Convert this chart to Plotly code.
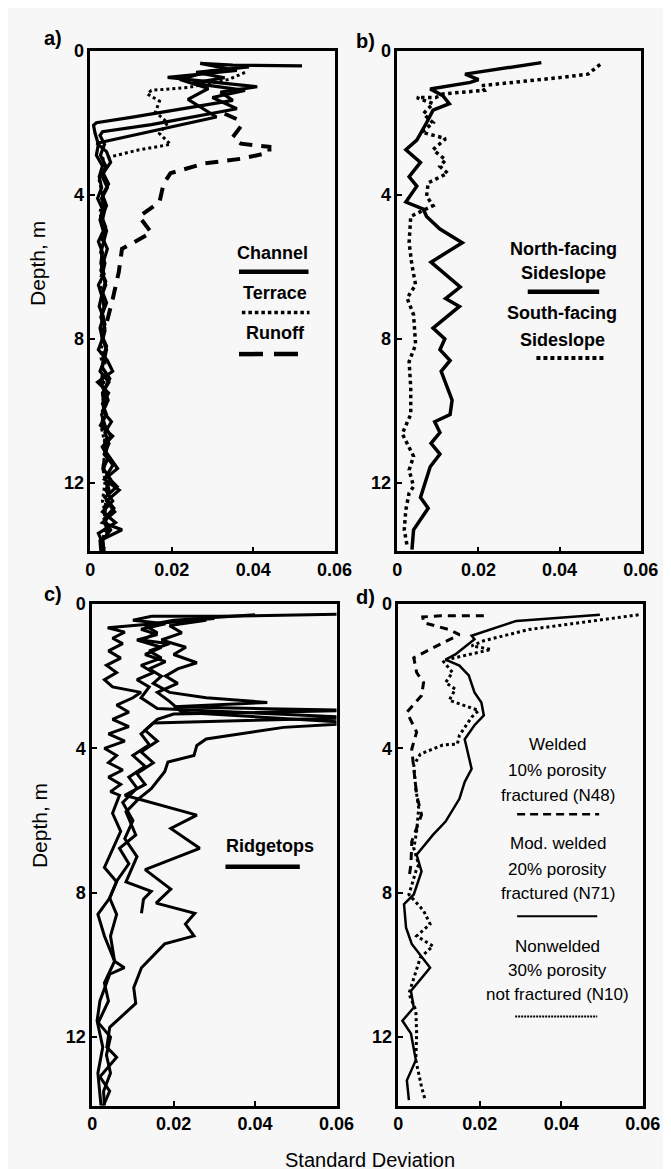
import plotly.graph_objects as go

W, H = 671, 1169

# ---------------- data (depth in m, standard deviation) ----------------
# Panel a: Channel (solid, 3 profiles), Terrace (dotted), Runoff (dashed)
ch1_depth = [0.42,0.40,0.35,0.55,0.74,1.00,1.15,1.38,1.85,2.00,2.07,2.30,2.60,2.90,3.20,3.50,3.80,4.10,4.40,4.70,5.00,5.30,5.60,5.90,6.20,6.50,6.80,7.10,7.40,7.70,8.00,8.30,8.60,8.90,9.20,9.50,9.80,10.10,10.40,10.70,11.00,11.30,11.60,11.90,12.20,12.50,12.80,13.10,13.30,13.60,13.90]
ch1_sd = [0.052,0.035,0.027,0.036,0.019,0.041,0.032,0.035,0.010,0.0015,0.0008,0.0012,0.0020,0.0015,0.0030,0.0022,0.0028,0.0018,0.0030,0.0024,0.0032,0.0020,0.0030,0.0026,0.0034,0.0020,0.0028,0.0022,0.0032,0.0024,0.0030,0.0020,0.0042,0.0055,0.0018,0.0045,0.0030,0.0040,0.0025,0.0055,0.0030,0.0048,0.0067,0.0035,0.0071,0.0040,0.0060,0.0030,0.0078,0.0024,0.0026]
ch2_depth = [0.45,0.60,0.75,0.90,1.10,1.30,1.61,2.05,2.25,2.35,2.60,2.90,3.20,3.50,3.80,4.10,4.40,4.70,5.00,5.30,5.60,5.90,6.20,6.50,6.80,7.10,7.40,7.70,8.00,8.30,8.60,8.90,9.20,9.50,9.80,10.10,10.40,10.70,11.00,11.30,11.60,11.90,12.20,12.50,12.80,13.10,13.40,13.70,13.90]
ch2_sd = [0.039,0.026,0.033,0.025,0.038,0.030,0.036,0.015,0.0030,0.0024,0.0035,0.0025,0.0038,0.0030,0.0042,0.0028,0.0036,0.0030,0.0040,0.0032,0.0026,0.0036,0.0030,0.0038,0.0028,0.0034,0.0026,0.0036,0.0030,0.0040,0.0034,0.0024,0.0046,0.0030,0.0040,0.0028,0.0036,0.0050,0.0030,0.0044,0.0032,0.0050,0.0038,0.0055,0.0030,0.0062,0.0020,0.0032,0.0030]
ch3_depth = [0.55,0.80,1.05,1.35,1.84,2.30,2.57,2.80,3.10,3.40,3.70,4.00,4.30,4.60,4.90,5.20,5.50,5.80,6.10,6.40,6.70,7.00,7.30,7.60,7.90,8.20,8.50,8.80,9.10,9.40,9.70,10.00,10.30,10.60,10.90,11.20,11.50,11.80,12.10,12.40,12.70,13.00,13.30,13.60,13.90]
ch3_sd = [0.030,0.022,0.029,0.024,0.031,0.012,0.0016,0.0040,0.0050,0.0032,0.0045,0.0030,0.0040,0.0028,0.0038,0.0030,0.0042,0.0034,0.0026,0.0038,0.0030,0.0040,0.0030,0.0036,0.0028,0.0040,0.0032,0.0030,0.0048,0.0034,0.0044,0.0030,0.0052,0.0036,0.0046,0.0034,0.0056,0.0040,0.0066,0.0036,0.0058,0.0034,0.0050,0.0030,0.0034]
terrace_depth = [0.60,0.80,1.02,1.10,1.20,1.40,1.70,2.00,2.30,2.60,2.75,2.90,3.00,3.30,3.60,4.00,4.50,5.00,5.50,6.00,6.50,7.00,7.50,8.00,8.50,9.00,9.50,10.00,10.50,11.00,11.50,12.00,12.50,13.00,13.50,13.90]
terrace_sd = [0.038,0.034,0.024,0.015,0.014,0.017,0.016,0.019,0.017,0.0197,0.012,0.0063,0.0030,0.0035,0.0022,0.0030,0.0024,0.0032,0.0026,0.0030,0.0024,0.0034,0.0028,0.0030,0.0026,0.0036,0.0030,0.0034,0.0028,0.0038,0.0032,0.0036,0.0030,0.0040,0.0032,0.0030]
runoff_depth = [1.75,1.90,2.10,2.40,2.58,2.67,2.83,3.00,3.13,3.40,3.70,4.20,4.60,5.05,5.50,6.15,6.90,7.50,8.00,8.60,9.20,9.80,10.40,11.00,11.60,12.20,12.80,13.40,13.90]
runoff_sd = [0.033,0.036,0.037,0.035,0.037,0.044,0.044,0.037,0.028,0.0197,0.018,0.017,0.012,0.015,0.0078,0.0070,0.0055,0.0040,0.0030,0.0036,0.0028,0.0034,0.0030,0.0040,0.0032,0.0045,0.0035,0.0042,0.0030]

# Panel b: North-facing (solid) and South-facing (dotted) sideslopes
north_depth = [0.33,0.65,0.80,0.88,1.06,1.25,1.47,1.65,2.00,2.48,2.75,3.10,3.50,3.76,4.20,4.40,4.60,4.95,5.33,5.87,6.56,6.88,7.10,7.70,8.00,8.30,8.60,8.90,9.70,10.10,10.30,10.60,10.90,11.20,11.55,12.40,12.70,13.30,13.85]
north_sd = [0.0355,0.0167,0.0200,0.0180,0.0081,0.0112,0.0128,0.0088,0.0072,0.0048,0.0021,0.0057,0.0029,0.0048,0.0021,0.0064,0.0072,0.0105,0.0160,0.0083,0.0155,0.0119,0.0153,0.0088,0.0117,0.0105,0.0130,0.0108,0.0135,0.0130,0.0092,0.0105,0.0083,0.0105,0.0081,0.0057,0.0076,0.0040,0.0036]
south_depth = [0.38,0.65,0.74,0.97,1.10,1.20,1.30,1.30,1.47,1.75,2.00,2.26,2.44,2.75,3.03,3.21,3.40,3.67,4.04,4.30,4.60,5.33,5.96,6.50,6.87,7.33,8.16,8.63,9.35,10.10,10.63,11.26,11.64,12.10,12.28,12.74,13.30,13.74]
south_sd = [0.0500,0.0470,0.0405,0.0207,0.0214,0.0112,0.0095,0.0048,0.0088,0.0064,0.0088,0.0060,0.0119,0.0088,0.0119,0.0105,0.0124,0.0076,0.0072,0.0088,0.0033,0.0029,0.0036,0.0045,0.0024,0.0040,0.0045,0.0029,0.0033,0.0033,0.0012,0.0040,0.0029,0.0040,0.0029,0.0021,0.0017,0.0024]

# Panel c: Ridgetops (4 profiles, solid)
r1_depth = [0.28,0.34,0.34,0.45,0.55,0.70,0.85,1.00,1.20,1.40,1.60,1.80,2.00,2.20,2.45,2.60,2.73,2.85,2.95,3.05,3.20,3.50,3.80,4.10,4.40,4.70,5.00,5.30,5.85,6.22,6.77,7.36,7.90,8.29,8.57,8.87,9.20,9.42,10.08,10.63,11.07,11.73,12.28,12.56,13.10,13.50,13.94]
r1_sd = [0.065,0.031,0.0146,0.010,0.018,0.012,0.016,0.011,0.017,0.013,0.018,0.014,0.017,0.015,0.019,0.028,0.043,0.020,0.065,0.020,0.016,0.013,0.016,0.012,0.015,0.011,0.013,0.008,0.0257,0.0193,0.0264,0.013,0.0193,0.0157,0.0252,0.0229,0.025,0.0178,0.0121,0.0102,0.0107,0.0043,0.0036,0.006,0.0019,0.0043,0.0026]
r2_depth = [0.40,0.66,0.78,0.95,1.10,1.30,1.50,1.70,1.90,2.10,2.30,2.45,2.60,2.80,3.00,3.20,3.40,3.60,3.80,4.00,4.20,4.40,4.60,4.80,5.00,5.20,5.30,5.80,6.30,6.80,7.30,7.70,8.15,8.60,9.20,9.90,10.08,10.26,11.00,11.55,12.28,13.00,13.94]
r2_sd = [0.030,0.0038,0.008,0.005,0.0075,0.004,0.007,0.0035,0.006,0.003,0.005,0.012,0.010,0.006,0.009,0.005,0.009,0.004,0.008,0.003,0.006,0.004,0.0075,0.004,0.007,0.0045,0.0067,0.005,0.007,0.005,0.003,0.006,0.0043,0.0014,0.003,0.0055,0.0079,0.0043,0.0019,0.0012,0.0026,0.0014,0.0022]
r3_depth = [0.30,0.45,0.60,0.80,1.00,1.10,1.30,1.50,1.70,1.90,2.10,2.30,2.60,2.90,3.15,3.30,3.60,3.90,4.20,4.50,4.80,5.10,5.50,6.00,6.50,7.00,7.70,7.96,8.18,8.57]
r3_sd = [0.040,0.020,0.013,0.016,0.012,0.019,0.014,0.017,0.012,0.015,0.011,0.014,0.012,0.016,0.065,0.015,0.012,0.014,0.010,0.013,0.009,0.011,0.0075,0.010,0.008,0.011,0.0083,0.0145,0.0126,0.0121]
r4_depth = [0.45,0.60,0.80,1.00,1.20,1.40,1.63,1.80,2.00,2.20,2.45,2.70,3.00,3.30,3.42,3.74,3.92,4.20,4.38,4.65,5.12,5.40,5.76,6.40,6.77,7.20,7.68,8.15,8.60,9.20,9.90,10.50,11.00,11.60,12.00,12.50,13.00,13.50,13.94]
r4_sd = [0.028,0.019,0.022,0.017,0.023,0.020,0.0257,0.021,0.018,0.021,0.016,0.019,0.022,0.065,0.047,0.028,0.0257,0.025,0.0186,0.0178,0.0145,0.0114,0.0083,0.0107,0.0067,0.009,0.006,0.0043,0.006,0.0045,0.0055,0.003,0.004,0.0015,0.0045,0.0035,0.0045,0.0028,0.003]

# Panel d: N48 (dashed), N71 (solid), N10 (dotted)
n48_depth = [0.33,0.33,0.36,0.52,0.71,0.85,1.12,1.49,1.90,2.18,2.54,3.00,3.55,4.02,4.57,5.29,5.84,6.58,7.22,7.60]
n48_sd = [0.021,0.0104,0.006,0.0062,0.0125,0.015,0.0102,0.0038,0.0045,0.0062,0.0057,0.0021,0.0045,0.0033,0.0038,0.0045,0.0057,0.0033,0.0031,0.0026]
n71_depth = [0.30,0.47,0.88,0.98,1.40,1.54,1.71,1.98,2.45,2.73,3.09,3.36,3.75,4.19,4.57,4.93,5.40,6.03,6.40,6.95,7.33,7.41,8.05,8.32,8.97,9.42,10.08,10.72,11.18,11.55,11.90,12.64,13.20,13.75]
n71_sd = [0.0495,0.029,0.018,0.0187,0.014,0.0116,0.015,0.0173,0.0187,0.0204,0.021,0.0187,0.0163,0.0173,0.018,0.0163,0.015,0.0116,0.0085,0.0045,0.0054,0.0057,0.0038,0.0014,0.0019,0.0033,0.0078,0.0031,0.0038,0.001,0.0031,0.0043,0.0021,0.0026]
n10_depth = [0.30,0.44,0.71,1.02,1.16,1.26,1.57,1.90,2.18,2.36,2.67,2.95,3.14,3.64,3.88,3.91,4.16,4.47,5.12,5.66,6.30,6.77,7.22,7.41,8.05,8.50,8.87,9.20,9.48,9.80,10.35,10.80,11.26,11.90,12.64,13.38,13.75]
n10_sd = [0.059,0.0495,0.032,0.021,0.018,0.0228,0.0109,0.0133,0.0116,0.014,0.0125,0.0197,0.018,0.015,0.0145,0.0109,0.0054,0.0038,0.0043,0.005,0.0045,0.0038,0.005,0.0043,0.0026,0.0062,0.0078,0.0045,0.0085,0.0054,0.0038,0.0026,0.0043,0.0045,0.0043,0.0057,0.0066]

x_ticks = [0, 0.02, 0.04, 0.06]
x_ticktext = ["0", "0.02", "0.04", "0.06"]
y_ticks = [0, 4, 8, 12]
y_ticktext = ["0", "4", "8", "12"]

# ---------------- figure ----------------
FONT = "Arial, Liberation Sans, sans-serif"
fig = go.Figure()

def add(xs, ys, ax, width, dash="solid"):
    fig.add_trace(go.Scatter(x=xs, y=ys, mode="lines", xaxis="x" + ax, yaxis="y" + ax,
                             line=dict(color="black", width=width, dash=dash, shape="linear"),
                             showlegend=False, hoverinfo="skip"))

# a
add(ch1_sd, ch1_depth, "", 3.2)
add(ch2_sd, ch2_depth, "", 3.2)
add(ch3_sd, ch3_depth, "", 3.2)
add(terrace_sd, terrace_depth, "", 3, "3px,3px")
add(runoff_sd, runoff_depth, "", 4, "13px,9px")
# b
add(north_sd, north_depth, "2", 3.5)
add(south_sd, south_depth, "2", 3.5, "3.5px,3.5px")
# c
add(r1_sd, r1_depth, "3", 3)
add(r2_sd, r2_depth, "3", 3)
add(r3_sd, r3_depth, "3", 3)
add(r4_sd, r4_depth, "3", 3)
# d
add(n48_sd, n48_depth, "4", 3, "8px,6px")
add(n71_sd, n71_depth, "4", 2.5)
add(n10_sd, n10_depth, "4", 3, "3px,3px")

def px_x(p):
    return p / W

def px_y(p):
    return 1 - p / H

panels = {
    "": (80, 333, 33, 538),
    "2": (398, 650, 33, 538),
    "3": (82, 335, 591, 1097),
    "4": (399, 652, 591, 1097),
}

axis_common = dict(showline=True, mirror=True, linecolor="black", linewidth=2.5,
                   showgrid=False, zeroline=False, ticks="inside", ticklen=5,
                   tickwidth=1.5, tickcolor="black",
                   tickfont=dict(family=FONT, size=18, color="black", weight="bold"))

layout = dict(width=W, height=H, margin=dict(l=0, r=0, t=0, b=0),
              paper_bgcolor="#f7f7f7", plot_bgcolor="#f7f7f7", showlegend=False)

for ax, (x0, x1, y0, y1) in panels.items():
    layout["xaxis" + ax] = dict(axis_common, domain=[px_x(x0), px_x(x1)], range=[0, 0.06],
                                tickvals=x_ticks, ticktext=x_ticktext,
                                anchor="y" + ax)
    layout["yaxis" + ax] = dict(axis_common, domain=[px_y(y1), px_y(y0)], range=[13.9, 0],
                                tickvals=y_ticks, ticktext=y_ticktext,
                                anchor="x" + ax)

fig.update_layout(**layout)

annotations = []

def text(s, x, y, size=18, bold=True, angle=0):
    annotations.append(dict(text=s, x=px_x(x), y=px_y(y), xref="paper", yref="paper",
                            showarrow=False, xanchor="center", yanchor="middle",
                            textangle=angle,
                            font=dict(family=FONT, size=size, color="black",
                                      weight="bold" if bold else "normal")))

# panel labels
text("a)", 41, 20, 20)
text("b)", 365, 23, 20)
text("c)", 41, 581, 20)
text("d)", 365, 584, 20)

# axis titles
text("Depth, m", 26, 248, 21, bold=False, angle=-90)
text("Depth, m", 27, 815, 21, bold=False, angle=-90)
text("Standard Deviation", 370, 1152, 20, bold=False)

# legends
text("Channel", 269, 237)
text("Terrace", 271, 277)
text("Runoff", 272, 318)
text("North-facing", 570, 233)
text("Sideslope", 570, 257)
text("South-facing", 568, 298)
text("Sideslope", 569, 325)
text("Ridgetops", 266, 835)
for s, y in [("Welded", 733), ("10% porosity", 759), ("fractured (N48)", 784),
             ("Mod. welded", 833), ("20% porosity", 859), ("fractured (N71)", 883),
             ("Nonwelded", 937), ("30% porosity", 961), ("not fractured (N10)", 985)]:
    text(s, 564, y, 17, bold=False)

shapes = []

def sample(x0, x1, y, width, dash="solid"):
    shapes.append(dict(type="line", xref="paper", yref="paper",
                       x0=px_x(x0), x1=px_x(x1), y0=px_y(y), y1=px_y(y),
                       line=dict(color="black", width=width, dash=dash)))

sample(234, 306, 256, 4.5)
sample(237, 307, 297, 3.5, "3.5px,3px")
sample(234, 302, 339, 4.5, "24px,11px")
sample(533, 607, 276, 4.5)
sample(542, 613, 343, 4, "4px,3px")
sample(220, 297, 856, 4.5)
sample(522, 607, 803, 2.5, "8px,5px")
sample(522, 605, 906, 2)
sample(520, 605, 1007, 2, "2px,1px")

fig.update_layout(annotations=annotations, shapes=shapes)

fig.write_html("out.html")
